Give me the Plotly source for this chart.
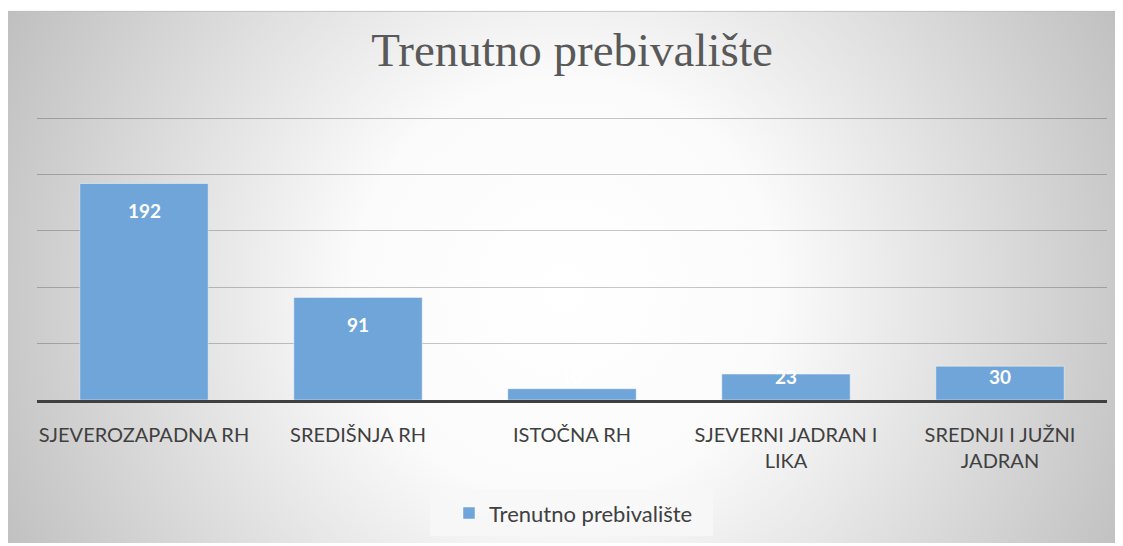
import base64
import plotly.graph_objects as go

# ---- data ----
categories = ["SJEVEROZAPADNA RH", "SREDIŠNJA RH", "ISTOČNA RH",
              "SJEVERNI JADRAN I<br>LIKA", "SREDNJI I JUŽNI<br>JADRAN"]
values = [192, 91, 10, 23, 30]
series_name = "Trenutno prebivalište"
title_text = "Trenutno prebivalište"
y_ticks = [0, 50, 100, 150, 200, 250]

# ---- layout geometry (screen pixels; page body adds an 8px offset) ----
OFF = 8
W, H = 1123 - OFF, 546 - OFF
PL, PR, PT, PB = 37, 1107, 117, 402      # plot area in screen pixels
L, R, T, B = PL - OFF, (1123 - PR), PT - OFF, 546 - PB
pw, ph = W - L - R, H - T - B


def px_x(x):          # screen x -> paper
    return (x - OFF - L) / pw


def px_y(y):          # screen y -> paper
    return (H - B - (y - OFF)) / ph


# radial gradient background of the chart area (screen 7,10 -> 1123,546)
bx0, by0, bx1, by1 = OFF, 10, 1123, 546
bw, bh = bx1 - bx0, by1 - by0
svg = f'''<svg xmlns="http://www.w3.org/2000/svg" width="{bw}" height="{bh}" viewBox="0 0 {bw} {bh}" preserveAspectRatio="none">
<defs><radialGradient id="g" gradientUnits="userSpaceOnUse" cx="{565-bx0}" cy="{290-by0}" r="640">
<stop offset="0" stop-color="#ffffff"/><stop offset="0.33" stop-color="#fbfbfb"/><stop offset="1" stop-color="#bdbdbd"/>
</radialGradient></defs>
<rect x="0" y="0" width="{bw}" height="{bh}" fill="url(#g)"/>
<line x1="0" y1="0.5" x2="{bw}" y2="0.5" stroke="#bdbdbd" stroke-width="1"/>
</svg>'''
src = "data:image/svg+xml;base64," + base64.b64encode(svg.encode()).decode()

fig = go.Figure()
fig.add_trace(go.Bar(
    x=categories, y=values, name=series_name,
    marker=dict(color="#6fa5d9", line=dict(color="rgba(255,255,255,0.45)", width=1)),
    hoverinfo="x+y",
))

# data labels (inside end, clamped near the base like the original)
for c, v in zip(categories, values):
    fig.add_annotation(
        x=c, y=max(v - 24, 21), xref="x", yref="y", text=str(v), showarrow=False,
        font=dict(family="Lato", size=19, color="white", weight="bold"),
        yanchor="middle",
    )

fig.add_layout_image(dict(
    source=src, xref="paper", yref="paper",
    x=px_x(bx0), y=px_y(by0), sizex=px_x(bx1) - px_x(bx0), sizey=px_y(by0) - px_y(by1),
    xanchor="left", yanchor="top", sizing="stretch", layer="below",
))

# legend box
fig.add_shape(type="rect", xref="paper", yref="paper",
              x0=px_x(430), x1=px_x(713), y0=px_y(539), y1=px_y(492),
              fillcolor="rgba(247,247,247,0.9)", line=dict(width=0), layer="below")

fig.update_layout(
    width=W, height=H,
    margin=dict(l=L, r=R, t=T, b=B, pad=0),
    paper_bgcolor="white", plot_bgcolor="rgba(0,0,0,0)",
    bargap=0.4,
    showlegend=True,
    title=dict(text=title_text, x=0.5, xref="paper", xanchor="center",
               y=1 - (50 - OFF) / H, yref="container", yanchor="middle",
               font=dict(family="Liberation Serif", size=47, color="#595959")),
    legend=dict(orientation="h", x=px_x(449), xanchor="left", y=px_y(516), yanchor="middle",
                bgcolor="rgba(0,0,0,0)", font=dict(family="Lato", size=22, color="#404040")),
    xaxis=dict(showgrid=False, showline=True, linecolor="#404040", linewidth=3,
               ticks="", tickfont=dict(family="Lato", size=20, color="#404040"),
               ticklabelstandoff=15, fixedrange=True),
    yaxis=dict(range=[0, 251], tickvals=y_ticks, showticklabels=False, showgrid=True,
               gridcolor="rgba(0,0,0,0.22)", gridwidth=1, zeroline=False, showline=False,
               fixedrange=True),
)

fig.write_html("out.html")
